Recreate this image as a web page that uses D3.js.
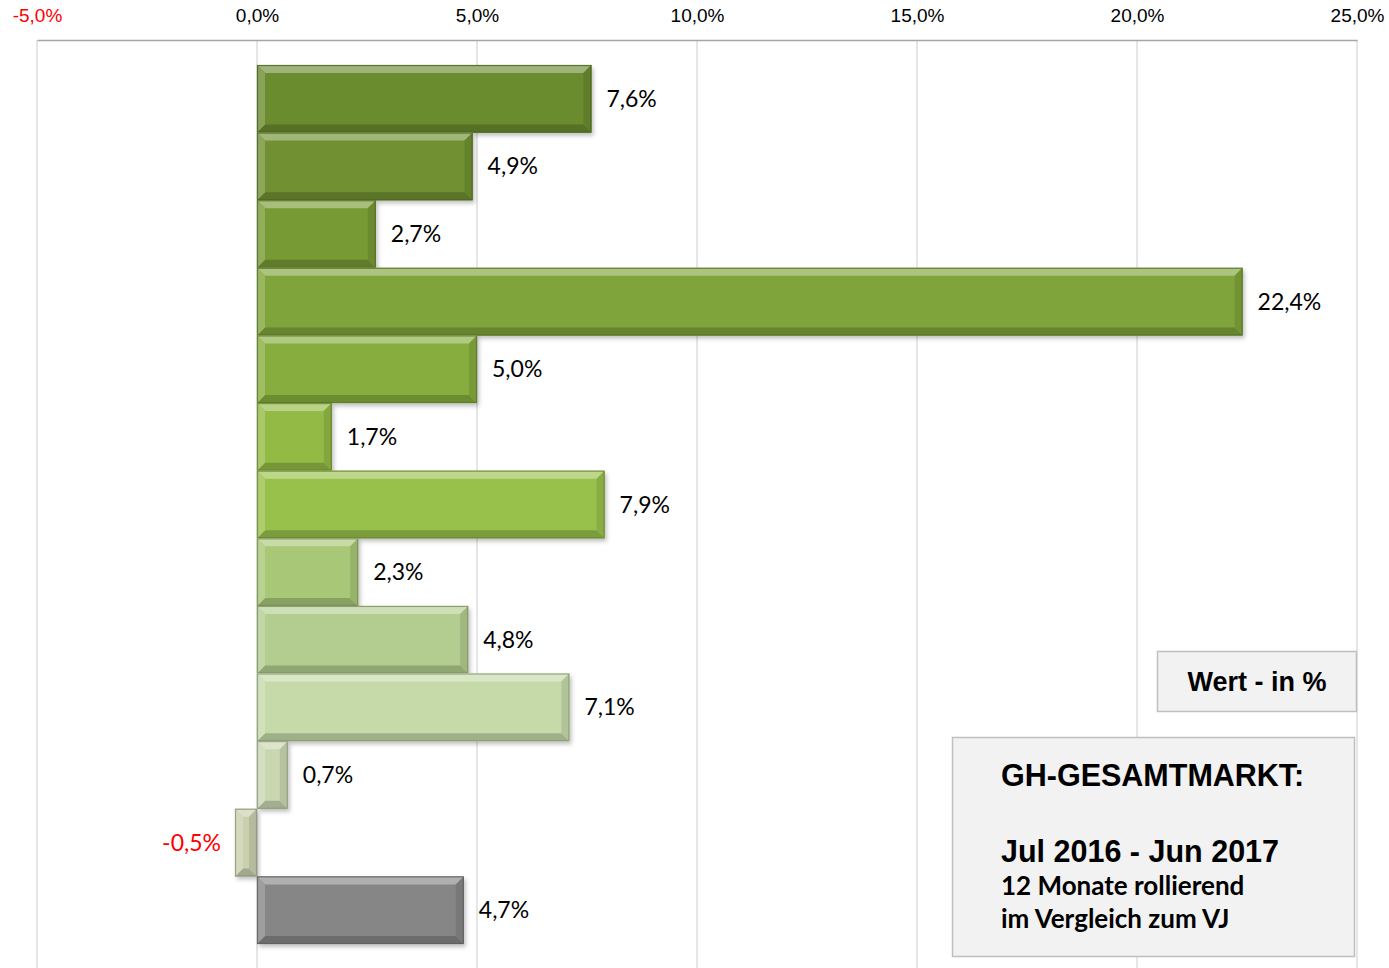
<!DOCTYPE html>
<html>
<head>
<meta charset="utf-8">
<script src="https://cdn.jsdelivr.net/npm/d3@7"></script>
<style>
  html, body { margin: 0; padding: 0; background: #fff; }
  svg { display: block; }
</style>
</head>
<body>
<svg id="chart" width="1389" height="968"></svg>
<script>
// ---- data ----
const categories = ["K1","K2","K3","K4","K5","K6","K7","K8","K9","K10","K11","K12","Gesamt"];
const values = [7.6, 4.9, 2.7, 22.4, 5.0, 1.7, 7.9, 2.3, 4.8, 7.1, 0.7, -0.5, 4.7];
const tickValues = [-5, 0, 5, 10, 15, 20, 25];
const legendLabel = "Wert - in %";
const titleLines = ["GH-GESAMTMARKT:", "Jul 2016 - Jun 2017", "12 Monate rollierend", "im Vergleich zum VJ"];

// ---- palette ----
const palette = ["#6a8b2f","#6f9031","#779a34","#7fa43a","#86ad3d","#92ba45","#98c14b",
                 "#a8c777","#b2cd8f","#c5daa8","#c9d7b1","#c9d0ae","#868686"];

const fmt = v => d3.format(".1f")(v).replace(".", ",").replace("\u2212", "-") + "%";

const svg = d3.select("#chart");
const W = 1389, H = 968;

const x = d3.scaleLinear().domain([-5, 25]).range([37, 1357]);
const y = d3.scaleBand().domain(categories).range([65, 944]).paddingInner(0).paddingOuter(0);
const axisY = 40;

// defs: shadow
const defs = svg.append("defs");
const f = defs.append("filter").attr("id", "shadow").attr("x", "-10%").attr("y", "-10%").attr("width", "130%").attr("height", "140%");
f.append("feDropShadow").attr("dx", 2).attr("dy", 3).attr("stdDeviation", 2).attr("flood-color", "#000").attr("flood-opacity", 0.25);

// gridlines
svg.append("g").selectAll("line").data(tickValues).join("line")
  .attr("x1", d => x(d)).attr("x2", d => x(d))
  .attr("y1", axisY).attr("y2", H)
  .attr("stroke", "#d9d9d9").attr("stroke-width", 1.3);

// top axis
const axis = d3.axisTop(x).tickValues(tickValues).tickSize(0).tickPadding(0).tickFormat(fmt);
const ag = svg.append("g").attr("transform", `translate(0,${axisY})`).call(axis);
ag.select(".domain").attr("stroke", "#a6a6a6").attr("stroke-width", 1.5);
ag.selectAll("text")
  .attr("y", -18)
  .attr("font-family", "'Liberation Sans', Arial, sans-serif")
  .attr("font-size", 19)
  .attr("fill", d => d < 0 ? "#ff0000" : "#000");

// bars with bevel
const bars = svg.append("g");
categories.forEach((c, i) => {
  const v = values[i];
  const x0 = Math.min(x(0), x(v)), x1 = Math.max(x(0), x(v));
  const y0 = y(c), y1 = y(c) + y.bandwidth();
  const col = d3.color(palette[i]);
  const b = Math.min(8, (x1 - x0) / 2, (y1 - y0) / 2);
  const g = bars.append("g");
  g.append("rect").attr("x", x0).attr("y", y0).attr("width", x1 - x0).attr("height", y1 - y0)
    .attr("fill", col).attr("filter", "url(#shadow)");
  const light = d3.interpolateRgb(col, "#ffffff")(0.35);
  const lighter = d3.interpolateRgb(col, "#ffffff")(0.2);
  const dark = col.darker(0.6);
  const darkish = col.darker(0.3);
  g.append("polygon").attr("points", [[x0,y0],[x1,y0],[x1-b,y0+b],[x0+b,y0+b]].join(" ")).attr("fill", light);
  g.append("polygon").attr("points", [[x0,y1],[x1,y1],[x1-b,y1-b],[x0+b,y1-b]].join(" ")).attr("fill", dark);
  g.append("polygon").attr("points", [[x0,y0],[x0+b,y0+b],[x0+b,y1-b],[x0,y1]].join(" ")).attr("fill", lighter);
  g.append("polygon").attr("points", [[x1,y0],[x1-b,y0+b],[x1-b,y1-b],[x1,y1]].join(" ")).attr("fill", darkish);
  g.append("rect").attr("x", x0 + 0.5).attr("y", y0 + 0.5).attr("width", x1 - x0 - 1).attr("height", y1 - y0 - 1)
    .attr("fill", "none").attr("stroke", col.darker(1.0)).attr("stroke-opacity", 0.8).attr("stroke-width", 1.2);
});

// value labels
svg.append("g").selectAll("text").data(categories).join("text")
  .attr("x", (c, i) => values[i] >= 0 ? x(values[i]) + 15 : x(values[i]) - 14)
  .attr("y", c => y(c) + y.bandwidth() / 2 + 8)
  .attr("text-anchor", (c, i) => values[i] >= 0 ? "start" : "end")
  .attr("font-family", "Lato, 'Open Sans', sans-serif")
  .attr("font-size", 23)
  .attr("fill", (c, i) => values[i] < 0 ? "#ff0000" : "#000")
  .text((c, i) => fmt(values[i]));

// legend box
svg.append("rect").attr("x", 1157.5).attr("y", 651.5).attr("width", 199).attr("height", 60)
  .attr("fill", "#f2f2f2").attr("stroke", "#bfbfbf").attr("stroke-width", 1.5);
svg.append("text").attr("x", 1257).attr("y", 691).attr("text-anchor", "middle")
  .attr("font-family", "'Liberation Sans', Arial, sans-serif").attr("font-weight", "bold")
  .attr("font-size", 27).text(legendLabel);

// title box
svg.append("rect").attr("x", 952.5).attr("y", 737.5).attr("width", 402).attr("height", 219)
  .attr("fill", "#f2f2f2").attr("stroke", "#bfbfbf").attr("stroke-width", 1.5);
const tx = 1001;
svg.append("text").attr("x", tx).attr("y", 786)
  .attr("font-family", "'Liberation Sans', Arial, sans-serif").attr("font-weight", "bold")
  .attr("font-size", 30.5).text(titleLines[0]);
svg.append("text").attr("x", tx).attr("y", 862)
  .attr("font-family", "'Liberation Sans', Arial, sans-serif").attr("font-weight", "bold")
  .attr("font-size", 30.5).text(titleLines[1]);
svg.append("text").attr("x", tx).attr("y", 895)
  .attr("font-family", "Lato, 'Open Sans', sans-serif").attr("font-weight", "bold")
  .attr("font-size", 26).text(titleLines[2]);
svg.append("text").attr("x", tx).attr("y", 928)
  .attr("font-family", "Lato, 'Open Sans', sans-serif").attr("font-weight", "bold")
  .attr("font-size", 26).text(titleLines[3]);
</script>
</body>
</html>
